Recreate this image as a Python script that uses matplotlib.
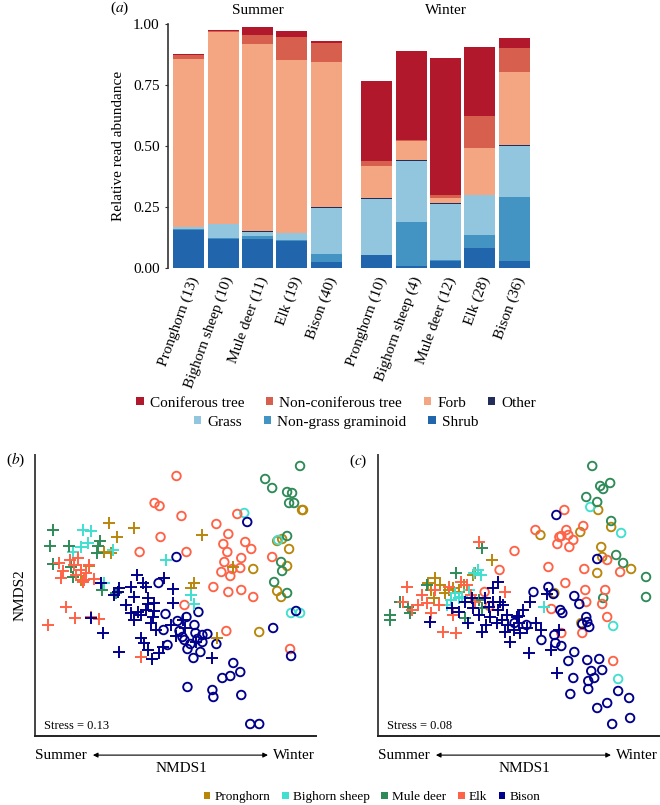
"""Diet composition bars and NMDS ordination panels."""

import matplotlib
matplotlib.use("Agg")
import matplotlib.pyplot as plt
from matplotlib.patches import Patch
import numpy as np

plt.rcParams["font.family"] = ["Liberation Serif", "DejaVu Serif"]
plt.rcParams["mathtext.fontset"] = "stix"

# ---- panel (a): relative read abundance -------------------------------
species = ["Pronghorn", "Bighorn sheep", "Mule deer", "Elk", "Bison"]
summer_n = [13, 10, 11, 19, 40]
winter_n = [10, 4, 12, 28, 36]

# first five values = summer, last five = winter (same species order)
shrub = [0.155, 0.119, 0.119, 0.109, 0.023, 0.053, 0.010, 0.030, 0.081, 0.027]
non_grass_graminoid = [0.006, 0.002, 0.013, 0.004, 0.034, 0.002, 0.180, 0.001, 0.054, 0.265]
grass = [0.005, 0.058, 0.015, 0.030, 0.188, 0.228, 0.249, 0.233, 0.163, 0.209]
other = [0.002, 0.003, 0.003, 0.002, 0.003, 0.003, 0.003, 0.002, 0.003, 0.002]
forb = [0.687, 0.784, 0.767, 0.709, 0.598, 0.130, 0.080, 0.021, 0.189, 0.299]
non_coniferous_tree = [0.018, 0.005, 0.039, 0.094, 0.078, 0.023, 0.001, 0.012, 0.134, 0.101]
coniferous_tree = [0.002, 0.005, 0.032, 0.023, 0.005, 0.329, 0.365, 0.562, 0.283, 0.038]

diet_layers = [
    ("Shrub", shrub, "#2166AC"),
    ("Non-grass graminoid", non_grass_graminoid, "#4393C3"),
    ("Grass", grass, "#92C5DE"),
    ("Other", other, "#232D5A"),
    ("Forb", forb, "#F4A582"),
    ("Non-coniferous tree", non_coniferous_tree, "#D6604D"),
    ("Coniferous tree", coniferous_tree, "#B2182B"),
]
legend_row1 = ["Coniferous tree", "Non-coniferous tree", "Forb", "Other"]
legend_row2 = ["Grass", "Non-grass graminoid", "Shrub"]

# ---- panels (b) and (c): NMDS scores -----------------------------------
# panel (b)
b_pronghorn_summer = [(-0.67, 0.72), (-0.42, 0.67), (-0.59, 0.58), (-0.65, 0.42), (-0.72, 0.43),
                      (-0.87, 0.29), (-0.95, 0.15), (-0.93, 0.14), (0.27, 0.60), (0.58, 0.28),
                      (0.19, 0.12), (0.16, 0.07), (0.42, -0.43)]
b_bighorn_summer = [(-0.93, 0.65), (-0.85, 0.64), (-0.95, 0.48), (-0.63, 0.45), (-0.72, 0.12),
                    (-0.10, 0.35), (0.16, 0.00), (0.19, -0.09), (-1.03, 0.43), (-0.88, 0.52)]
b_muledeer_summer = [(-1.23, 0.65), (-1.26, 0.49), (-1.07, 0.49), (-1.23, 0.31), (-1.03, 0.18),
                     (-0.78, 0.49), (-0.76, 0.54), (-0.74, 0.05), (-0.79, 0.42), (-1.05, 0.28),
                     (-0.60, 0.02)]
b_elk_summer = [(-1.17, 0.32), (-1.13, 0.24), (-1.15, 0.17), (-1.02, 0.30), (-0.98, 0.37),
                (-0.95, 0.25), (-0.92, 0.15), (-0.87, 0.30), (-0.93, 0.13), (-1.10, -0.12),
                (-1.01, -0.23), (-0.85, -0.22), (-0.77, -0.24), (-1.28, -0.30), (-0.35, -0.62),
                (-0.90, 0.22), (-1.06, 0.35), (-0.82, 0.16), (-1.00, 0.20)]
b_bison_summer = [(-0.39, 0.20), (-0.12, 0.17), (-0.33, 0.12), (-0.45, 0.08), (-0.30, 0.08),
                  (-0.57, 0.07), (-0.03, 0.06), (-0.58, 0.03), (-0.75, 0.12), (-0.42, -0.02),
                  (-0.28, -0.03), (-0.03, -0.08), (-0.28, -0.09), (-0.22, -0.08), (-0.45, -0.18),
                  (-0.38, -0.17), (-0.30, -0.15), (-0.22, -0.16), (-0.23, -0.22), (-0.25, -0.28),
                  (-0.35, -0.20), (-0.85, -0.23), (-0.73, -0.38), (0.08, -0.25), (0.00, -0.41),
                  (0.10, -0.33), (-0.35, -0.43), (-0.32, -0.48), (-0.28, -0.55), (-0.57, -0.57),
                  (-0.17, -0.58), (-0.24, -0.64), (-0.13, -0.52), (0.21, -0.47), (0.37, -0.63),
                  (-0.42, -0.25), (-0.50, -0.10), (-0.20, -0.35), (-0.05, -0.30), (-0.62, 0.00)]
b_pronghorn_winter = [(1.27, 0.85), (1.28, 0.85), (1.02, 0.54), (1.07, 0.56), (1.14, 0.46),
                      (0.78, 0.26), (1.12, 0.29), (1.02, 0.04), (1.06, -0.02), (0.84, -0.37)]
b_bighorn_winter = [(0.69, 0.82), (1.03, 0.55), (1.16, -0.18), (1.25, -0.18)]
b_muledeer_winter = [(1.25, 1.29), (0.90, 1.16), (0.97, 1.07), (1.12, 1.03), (1.17, 1.02),
                     (1.14, 0.92), (1.19, 0.92), (1.12, 0.59), (1.06, 0.33), (1.07, 0.24),
                     (0.99, 0.13), (1.12, 0.02)]
b_elk_winter = [(0.01, 1.19), (-0.21, 0.92), (-0.16, 0.89), (0.06, 0.79), (-0.15, 0.58),
                (-0.36, 0.43), (0.11, 0.43), (0.41, 0.71), (0.62, 0.81), (0.53, 0.61),
                (0.70, 0.53), (0.76, 0.46), (0.48, 0.51), (0.52, 0.43), (0.66, 0.37),
                (0.49, 0.33), (0.57, 0.26), (0.65, 0.27), (0.46, 0.23), (0.55, 0.19),
                (0.97, 0.38), (0.38, 0.08), (0.53, 0.03), (0.66, 0.05), (0.78, -0.02),
                (0.09, -0.10), (0.51, -0.36), (1.15, -0.54)]
b_bison_winter = [(0.72, 0.73), (0.01, 0.38), (-0.17, 0.12), (0.23, -0.17), (0.11, -0.22),
                  (0.19, -0.30), (0.02, -0.26), (-0.10, -0.19), (0.09, -0.45), (0.20, -0.38),
                  (0.27, -0.47), (0.32, -0.39), (0.18, -0.63), (0.41, -0.49), (0.12, -0.92),
                  (0.37, -0.95), (0.38, -1.02), (0.47, -0.83), (0.55, -0.81), (0.58, -0.68),
                  (0.65, -0.77), (0.66, -1.00), (0.75, -1.29), (0.84, -1.29), (0.98, -0.33),
                  (1.21, -0.16), (1.16, -0.61), (0.07, -0.42), (0.27, -0.40), (0.12, -0.54),
                  (0.25, -0.57), (-0.12, -0.35), (-0.08, -0.50), (0.04, -0.36), (0.22, -0.44),
                  (0.15, -0.49)]

# panel (c)
c_pronghorn_summer = [(-0.27, 0.35), (-0.44, 0.22), (-0.46, 0.20), (-0.84, 0.17), (-0.91, 0.12),
                      (-0.85, -0.03), (-0.74, 0.02), (-0.66, 0.07), (-0.70, 0.05), (-0.79, 0.10),
                      (-0.55, 0.10), (-0.60, 0.03), (-0.88, 0.05)]
c_bighorn_summer = [(-0.41, 0.25), (-0.38, 0.20), (-0.72, -0.10), (-0.64, 0.02), (-0.57, -0.02),
                    (0.26, -0.12), (-0.45, 0.22), (-0.60, -0.03), (-0.50, 0.05), (-0.68, -0.05)]
c_muledeer_summer = [(-0.37, 0.47), (-1.29, -0.20), (-1.29, -0.25), (-1.19, -0.07), (-1.11, -0.12),
                     (-1.09, -0.18), (-0.63, 0.22), (-0.92, 0.10), (-0.54, -0.23), (-0.37, -0.13),
                     (-0.40, -0.05)]
c_elk_summer = [(-0.40, 0.53), (-1.12, 0.08), (-1.16, -0.07), (-0.97, 0.00), (-1.01, -0.10),
                (-0.88, -0.18), (-0.76, -0.37), (-0.63, -0.38), (-0.66, -0.20), (-0.58, 0.13),
                (-0.14, 0.03), (-0.44, -0.07), (-0.84, 0.05), (-1.07, -0.15), (-0.92, -0.08),
                (-0.70, 0.08), (-0.52, 0.10), (-0.80, -0.10), (-0.48, 0.00)]
c_bison_summer = [(-0.21, 0.13), (-0.26, 0.07), (-0.47, -0.03), (-0.34, -0.03), (-0.54, -0.07),
                  (-0.26, -0.07), (-0.19, -0.07), (-0.67, -0.13), (-0.51, -0.28), (-0.89, -0.27),
                  (-0.37, -0.37), (-0.29, -0.22), (-0.21, -0.15), (-0.16, -0.10), (-0.22, -0.28),
                  (-0.12, -0.20), (-0.11, -0.30), (-0.14, -0.37), (-0.09, -0.47), (-0.02, -0.22),
                  (0.01, -0.28), (-0.46, -0.13), (0.00, -0.21), (0.12, -0.07), (0.29, 0.01),
                  (0.09, -0.33), (0.23, -0.35), (0.41, -0.35), (0.33, -0.55), (0.11, -0.58),
                  (0.39, -0.78), (-0.40, -0.20), (-0.30, -0.12), (-0.05, -0.35), (0.05, -0.15),
                  (-0.60, -0.17), (-0.17, -0.25), (-0.33, -0.30), (0.18, -0.28), (0.02, -0.38)]
c_pronghorn_winter = [(0.80, 0.85), (0.93, 0.68), (0.62, 0.63), (0.22, 0.60), (0.83, 0.48),
                      (0.79, 0.22), (1.13, 0.26), (0.36, 0.02), (0.63, -0.28), (0.84, 0.38)]
c_bighorn_winter = [(0.72, 0.88), (1.03, 0.62), (0.95, -0.31), (1.00, -0.84)]
c_muledeer_winter = [(0.74, 1.29), (0.82, 1.09), (0.85, 1.06), (0.92, 1.12), (0.68, 0.98),
                     (0.79, 0.93), (0.93, 0.74), (0.98, 0.40), (1.05, 0.32), (1.28, 0.18),
                     (1.28, -0.02), (0.85, -0.03)]
c_elk_winter = [(0.46, 0.85), (0.17, 0.65), (0.48, 0.65), (0.43, 0.59), (0.39, 0.51),
                (0.65, 0.69), (0.51, 0.48), (-0.04, 0.44), (0.30, 0.28), (0.66, 0.26),
                (0.89, 0.35), (1.02, 0.23), (0.47, 0.12), (0.67, 0.05), (0.87, 0.05),
                (0.68, -0.07), (0.84, -0.09), (0.33, -0.14), (0.89, -0.22), (0.43, -0.38),
                (0.64, -0.38), (0.95, -0.66), (-0.19, 0.25), (-0.34, 0.03), (-0.29, -0.11),
                (0.41, 0.58), (0.50, 0.60), (0.55, 0.55)]
c_bison_winter = [(0.38, 0.80), (0.79, 0.36), (0.15, 0.03), (0.30, 0.08), (0.35, 0.01),
                  (0.56, -0.01), (0.61, -0.09), (0.42, -0.15), (0.44, -0.18), (0.68, -0.22),
                  (0.69, -0.27), (0.64, -0.29), (0.71, -0.32), (-0.04, -0.28), (0.08, -0.30),
                  (0.23, -0.45), (0.37, -0.48), (0.43, -0.51), (0.56, -0.57), (0.50, -0.66),
                  (0.69, -0.65), (0.81, -0.64), (0.73, -0.76), (0.84, -0.75), (0.76, -0.83),
                  (0.70, -0.86), (0.55, -0.83), (0.70, -0.94), (1.00, -0.96), (0.52, -0.99),
                  (1.11, -1.03), (0.89, -1.08), (0.79, -1.13), (1.12, -1.23), (0.94, -1.29),
                  (0.36, -0.40)]

species_colors = ["#B8860B", "#40E0D0", "#2E8B57", "#FF6347", "#00008B"]

b_summer = [b_pronghorn_summer, b_bighorn_summer, b_muledeer_summer, b_elk_summer, b_bison_summer]
b_winter = [b_pronghorn_winter, b_bighorn_winter, b_muledeer_winter, b_elk_winter, b_bison_winter]
c_summer = [c_pronghorn_summer, c_bighorn_summer, c_muledeer_summer, c_elk_summer, c_bison_summer]
c_winter = [c_pronghorn_winter, c_bighorn_winter, c_muledeer_winter, c_elk_winter, c_bison_winter]


def draw_bars(ax, idx, counts, title):
    x = np.arange(5)
    bottom = np.zeros(5)
    for _, vals, col in diet_layers:
        v = np.array(vals)[idx]
        ax.bar(x, v, width=0.9, bottom=bottom, color=col, linewidth=0)
        bottom += v
    ax.set_xlim(-0.6, 4.6)
    ax.set_ylim(0, 1.0)
    ax.set_xticks(x)
    ax.set_xticklabels([f"{s} ({n})" for s, n in zip(species, counts)],
                       rotation=70, ha="right", va="top", rotation_mode="anchor",
                       fontsize=11)
    ax.tick_params(axis="x", length=0, pad=5)
    for side in ("top", "right", "bottom"):
        ax.spines[side].set_visible(False)
    ax.text(0.5, 1.057, title, transform=ax.transAxes, ha="center", va="center",
            fontsize=11)


def draw_nmds(ax, summer, winter, stress):
    for pts, col in zip(winter, species_colors):
        p = np.array(pts)
        ax.scatter(p[:, 0], p[:, 1], s=38, facecolors="none", edgecolors=col,
                   linewidths=1.35, zorder=3)
    for pts, col in zip(summer, species_colors):
        p = np.array(pts)
        ax.scatter(p[:, 0], p[:, 1], s=80, marker="+", color=col,
                   linewidths=1.4, zorder=3)
    ax.set_xlim(-1.41, 1.41)
    ax.set_ylim(-1.41, 1.40)
    ax.set_xticks([])
    ax.set_yticks([])
    ax.spines["top"].set_visible(False)
    ax.spines["right"].set_visible(False)
    ax.spines["left"].set_color("#444444")
    ax.spines["left"].set_linewidth(1.4)
    ax.spines["bottom"].set_color("#222222")
    ax.spines["bottom"].set_linewidth(1.4)
    ax.text(0.032, 0.036, f"Stress = {stress}", transform=ax.transAxes,
            ha="left", va="center", fontsize=9)
    # season gradient along NMDS1
    ax.annotate("", xy=(0.829, -0.068), xytext=(0.206, -0.068),
                xycoords="axes fraction", annotation_clip=False,
                arrowprops=dict(arrowstyle="<|-|>", color="black", lw=0.8,
                                shrinkA=0, shrinkB=0, mutation_scale=7))
    ax.text(0.0, -0.068, "Summer", transform=ax.transAxes, ha="left",
            va="center", fontsize=11)
    ax.text(0.995, -0.068, "Winter", transform=ax.transAxes, ha="right",
            va="center", fontsize=11)
    ax.text(0.52, -0.115, "NMDS1", transform=ax.transAxes, ha="center",
            va="center", fontsize=11)


fig = plt.figure(figsize=(6.6, 8.05), dpi=100)

ax_s = fig.add_axes([168 / 660, 1 - 268 / 805, 179 / 660, 244 / 805])
ax_w = fig.add_axes([356 / 660, 1 - 268 / 805, 179 / 660, 244 / 805])
draw_bars(ax_s, slice(0, 5), summer_n, "Summer")
draw_bars(ax_w, slice(5, 10), winter_n, "Winter")
ax_s.set_yticks([0, 0.25, 0.5, 0.75, 1.0])
ax_s.set_yticklabels(["0.00", "0.25", "0.50", "0.75", "1.00"], fontsize=11)
ax_s.tick_params(axis="y", length=2, pad=4, color="#333333")
ax_s.spines["left"].set_color("#333333")
ax_s.spines["left"].set_linewidth(1.2)
ax_s.set_ylabel("Relative read abundance", fontsize=11, labelpad=6)
ax_w.set_yticks([])
ax_w.spines["left"].set_visible(False)
fig.text(120 / 660, 1 - 8 / 805, r"($\mathit{a}$)", ha="center", va="center",
         fontsize=11)

colors = {name: col for name, _, col in diet_layers}
fig.legend(handles=[Patch(facecolor=colors[n], edgecolor="none", label=n) for n in legend_row1],
           loc="center", bbox_to_anchor=(336 / 660, 1 - 403 / 805), ncol=4,
           frameon=False, fontsize=11, handlelength=0.5, handleheight=0.5,
           handletextpad=0.4, columnspacing=1.4, borderpad=0)
fig.legend(handles=[Patch(facecolor=colors[n], edgecolor="none", label=n) for n in legend_row2],
           loc="center", bbox_to_anchor=(336 / 660, 1 - 422 / 805), ncol=3,
           frameon=False, fontsize=11, handlelength=0.5, handleheight=0.5,
           handletextpad=0.4, columnspacing=1.4, borderpad=0)

ax_b = fig.add_axes([35 / 660, 1 - 736 / 805, 281 / 660, 281 / 805])
ax_c = fig.add_axes([378 / 660, 1 - 736 / 805, 281 / 660, 281 / 805])
draw_nmds(ax_b, b_summer, b_winter, "0.13")
draw_nmds(ax_c, c_summer, c_winter, "0.08")
ax_b.set_ylabel("NMDS2", fontsize=11, labelpad=6)
fig.text(16 / 660, 1 - 460 / 805, r"($\mathit{b}$)", ha="center", va="center", fontsize=11)
fig.text(358 / 660, 1 - 461 / 805, r"($\mathit{c}$)", ha="center", va="center", fontsize=11)

fig.legend(handles=[Patch(facecolor=c, edgecolor="none", label=s)
                    for s, c in zip(species, species_colors)],
           loc="center", bbox_to_anchor=(372 / 660, 1 - 797 / 805), ncol=5,
           frameon=False, fontsize=9.5, handlelength=0.5, handleheight=0.5,
           handletextpad=0.3, columnspacing=0.9, borderpad=0)

fig.savefig("out.png", dpi=100)
